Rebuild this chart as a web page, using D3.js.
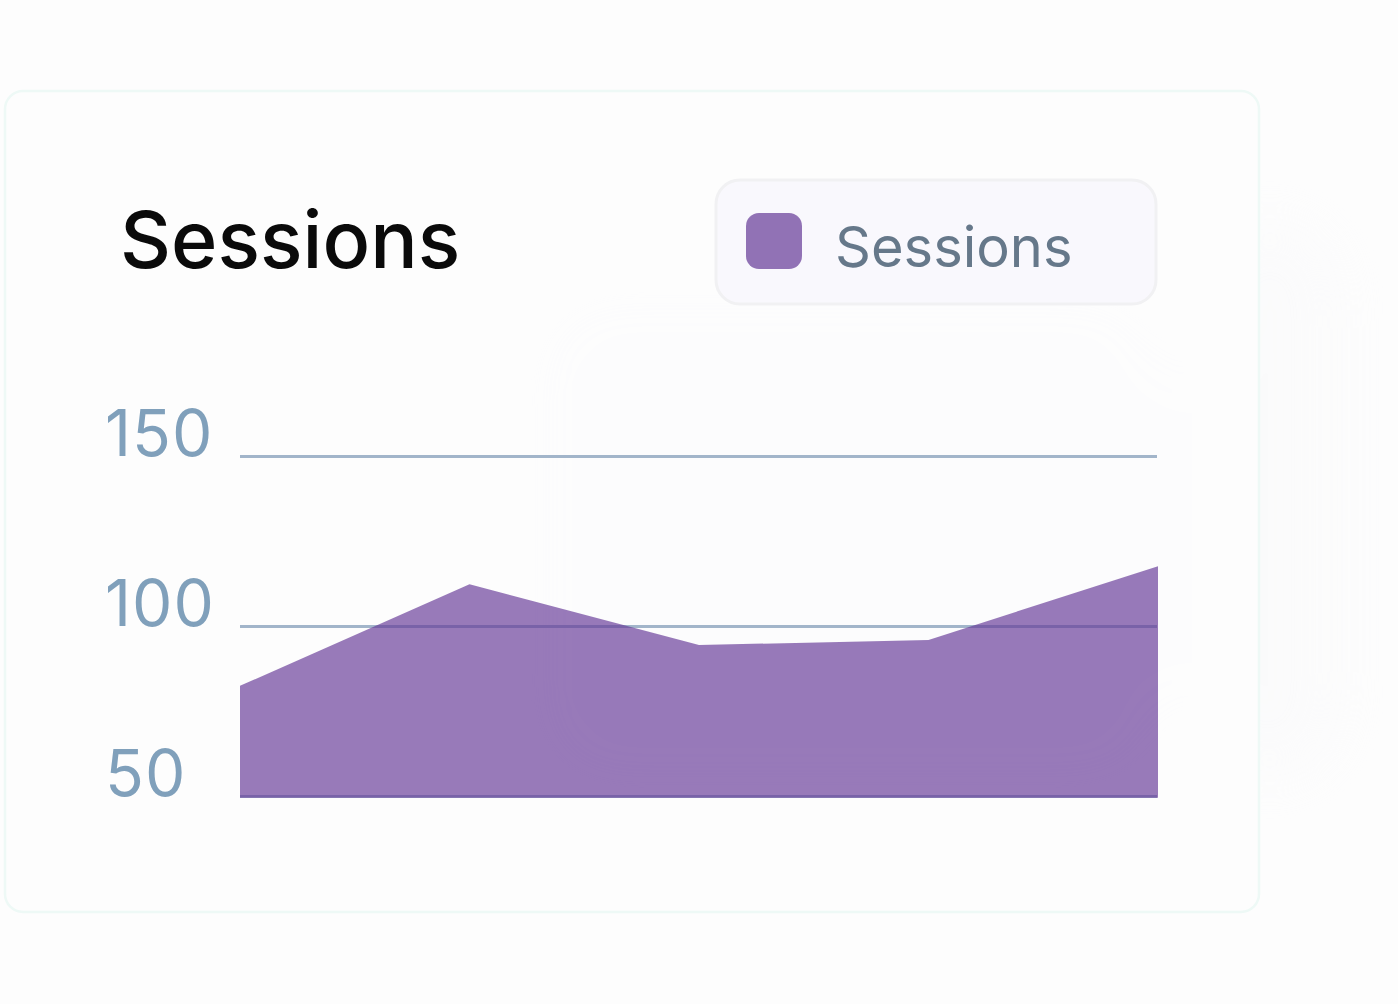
<!DOCTYPE html>
<html>
<head>
<meta charset="utf-8">
<script src="https://cdn.jsdelivr.net/npm/d3@7"></script>
<style>
  html, body { margin: 0; padding: 0; background: #fdfdfd; }
  svg { display: block; }
</style>
</head>
<body>
<svg id="chart" width="1398" height="1004"></svg>
<script>
// ---- data ----
const categories = ["P1", "P2", "P3", "P4", "P5"];
const sessions = [82.4, 112.3, 94.4, 95.9, 117.6];
const yTicks = [50, 100, 150];
const seriesName = "Sessions";
const titleText = "Sessions";

// ---- layout ----
const W = 1398, H = 1004;
const svg = d3.select("#chart");
const defs = svg.append("defs");

const blur = defs.append("filter").attr("id", "blur").attr("x", "-50%").attr("y", "-50%").attr("width", "200%").attr("height", "200%");
blur.append("feGaussianBlur").attr("stdDeviation", 30);

// page background
svg.append("rect").attr("width", W).attr("height", H).attr("fill", "#fdfdfd");

// faint decorative shapes behind
const deco = svg.append("g").attr("filter", "url(#blur)").attr("opacity", 0.35);
deco.append("rect").attr("x", 500).attr("y", 260).attr("width", 700).attr("height", 560).attr("rx", 120).attr("fill", "#f3f3f5");
deco.append("rect").attr("x", 1200).attr("y", 220).attr("width", 140).attr("height", 560).attr("rx", 70).attr("fill", "#f7f7f9");

// card
svg.append("rect")
  .attr("x", 5).attr("y", 91).attr("width", 1254).attr("height", 821).attr("rx", 18)
  .attr("fill", "#fdfdfd").attr("fill-opacity", 0.85)
  .attr("stroke", "#eef9f6").attr("stroke-width", 2.5);

// title
svg.append("text")
  .attr("x", 120).attr("y", 268)
  .attr("font-family", "Inter, 'Open Sans', sans-serif")
  .attr("font-weight", 500)
  .attr("font-size", 79)
  .attr("fill", "#0a0a0a")
  .text(titleText);

// legend
const lg = svg.append("g");
lg.append("rect")
  .attr("x", 716).attr("y", 180).attr("width", 440).attr("height", 124).attr("rx", 24)
  .attr("fill", "#f9f8fd").attr("stroke", "#f1f1f3").attr("stroke-width", 3);
lg.append("rect")
  .attr("x", 746).attr("y", 213).attr("width", 56).attr("height", 56).attr("rx", 13)
  .attr("fill", "#9172b5");
lg.append("text")
  .attr("x", 835).attr("y", 267)
  .attr("font-family", "Inter, 'Open Sans', sans-serif")
  .attr("font-size", 56)
  .attr("fill", "#66788a")
  .text(seriesName);

// scales
const x0 = 240, x1 = 1158;
const x = d3.scalePoint().domain(categories).range([x0, x1]);
const y = d3.scaleLinear().domain([50, 150]).range([796, 456]);

// gridlines via axis
const grid = svg.append("g").attr("transform", `translate(${x0},0)`)
  .call(d3.axisLeft(y).tickValues(yTicks).tickSize(-(x1 - x0 - 1)).tickFormat(""));
grid.select(".domain").remove();
grid.selectAll(".tick line").attr("stroke", "#a2b5ca").attr("stroke-width", 3);

// area
const area = d3.area()
  .x((d, i) => x(categories[i]))
  .y0(y(50) + 1.8)
  .y1(d => y(d));
svg.append("path")
  .datum(sessions)
  .attr("d", area)
  .attr("fill", "#653897")
  .attr("fill-opacity", 0.67);

// y labels
const yAxis = svg.append("g").attr("transform", "translate(105,0)")
  .call(d3.axisLeft(y).tickValues(yTicks).tickSize(0).tickFormat(d3.format("d")));
yAxis.select(".domain").remove();
yAxis.selectAll(".tick text")
  .attr("x", 0).attr("dy", null).attr("y", -1)
  .attr("text-anchor", "start")
  .attr("font-family", "Inter, 'Open Sans', sans-serif")
  .attr("font-size", 64)
  .attr("letter-spacing", 1)
  .attr("fill", "#80a0bb");
yAxis.attr("font-size", null).attr("font-family", null);
</script>
</body>
</html>
